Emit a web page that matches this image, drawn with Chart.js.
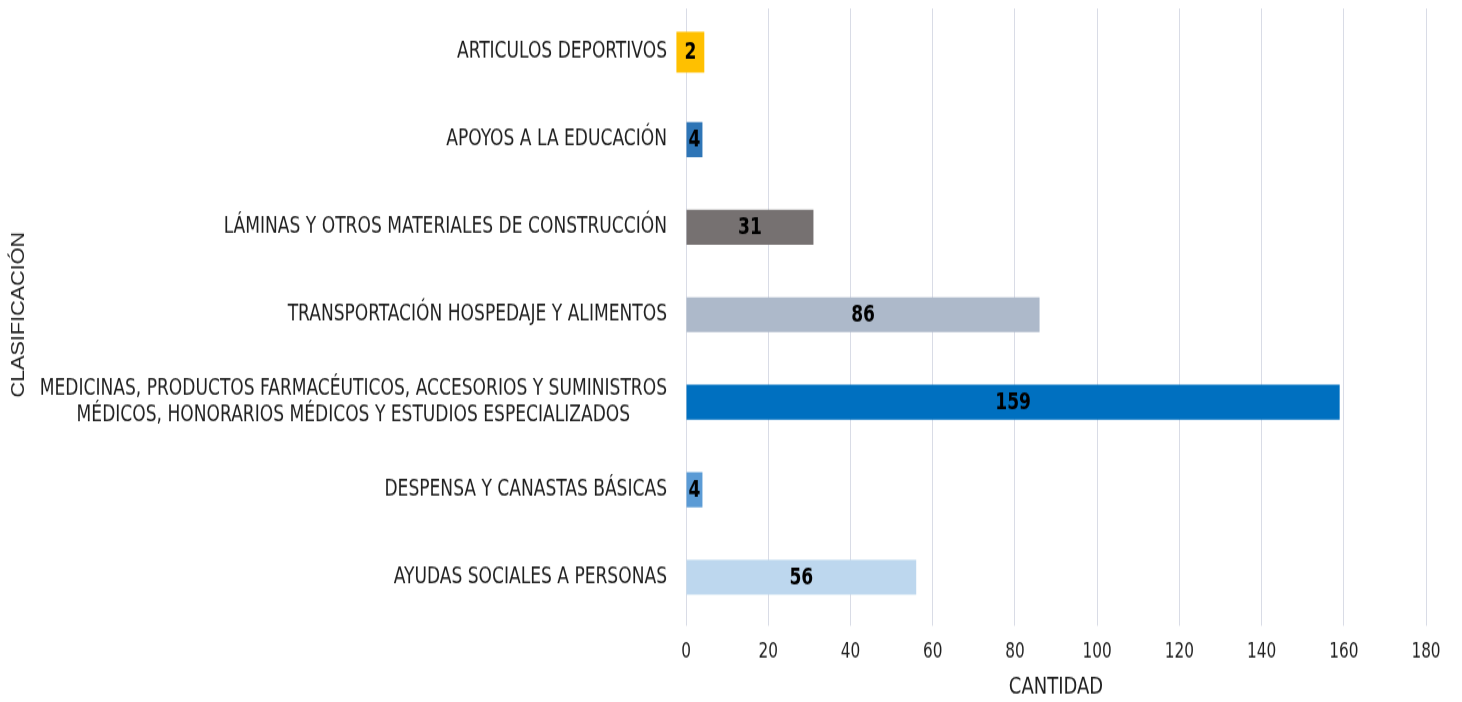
<!DOCTYPE html>
<html>
<head>
<meta charset="utf-8">
<script src="https://cdn.jsdelivr.net/npm/chart.js@4/dist/chart.umd.min.js"></script>
<style>
html,body{margin:0;padding:0;background:#fff;overflow:hidden;}
#wrap{width:1462px;height:702px;overflow:hidden;}
#c{display:block;transform:scaleY(1.2);transform-origin:0 0;}
</style>
</head>
<body>
<div id="wrap"><canvas id="c" width="1462" height="585"></canvas></div>
<script>
const categories = [
  'ARTICULOS DEPORTIVOS',
  'APOYOS A LA EDUCACIÓN',
  'LÁMINAS Y OTROS MATERIALES DE CONSTRUCCIÓN',
  'TRANSPORTACIÓN HOSPEDAJE Y ALIMENTOS',
  ['MEDICINAS, PRODUCTOS FARMACÉUTICOS, ACCESORIOS Y SUMINISTROS', 'MÉDICOS, HONORARIOS MÉDICOS Y ESTUDIOS ESPECIALIZADOS'],
  'DESPENSA Y CANASTAS BÁSICAS',
  'AYUDAS SOCIALES A PERSONAS'
];
const values = [2, 4, 31, 86, 159, 4, 56];
const barColors = ['#FFC000', '#2E75B6', '#767171', '#ADB9CA', '#0070C0', '#5B9BD5', '#BDD7EE'];
const labelBackgrounds = ['#FFC000', null, null, null, null, null, null];
const xMin = 0, xMax = 180, xStep = 20;
const xTitle = 'CANTIDAD';
const yTitle = 'CLASIFICACIÓN';

const NARROW = '"Liberation Sans Narrow", "DejaVu Sans Condensed", "Liberation Sans", sans-serif';
const TEXT = '#1f1f1f';

const yLabelPlugin = {
  id: 'yLabels',
  afterDraw(chart) {
    const ctx = chart.ctx;
    const ys = chart.scales.y;
    const xs = chart.scales.x;
    const right = xs.left - 19;
    ctx.save();
    ctx.font = '19px ' + NARROW;
    ctx.fillStyle = TEXT;
    ctx.textBaseline = 'middle';
    ctx.textAlign = 'center';
    categories.forEach((lab, i) => {
      const lines = Array.isArray(lab) ? lab : [lab];
      const maxW = Math.max(...lines.map(l => ctx.measureText(l).width));
      const cx = right - maxW / 2;
      const cy = ys.getPixelForValue(i);
      const lh = 22.5;
      lines.forEach((l, k) => {
        ctx.fillText(l, cx, cy + (k - (lines.length - 1) / 2) * lh);
      });
    });
    ctx.restore();
  }
};

const valueLabelPlugin = {
  id: 'valueLabels',
  afterDatasetsDraw(chart) {
    const ctx = chart.ctx;
    const meta = chart.getDatasetMeta(0);
    ctx.save();
    ctx.font = 'bold 19px ' + NARROW;
    ctx.textAlign = 'center';
    ctx.textBaseline = 'middle';
    meta.data.forEach((bar, i) => {
      const cx = (bar.x + bar.base) / 2;
      const cy = bar.y;
      const txt = String(values[i]);
      if (labelBackgrounds[i]) {
        const w = ctx.measureText(txt).width + 16;
        const h = 34;
        ctx.fillStyle = labelBackgrounds[i];
        ctx.fillRect(cx - w / 2, cy - h / 2, w, h);
      }
      ctx.fillStyle = '#000';
      ctx.fillText(txt, cx, cy + 1);
    });
    ctx.restore();
  }
};

new Chart(document.getElementById('c'), {
  type: 'bar',
  data: {
    labels: categories,
    datasets: [{
      data: values,
      backgroundColor: barColors,
      borderWidth: 0,
      categoryPercentage: 0.4,
      barPercentage: 1
    }]
  },
  options: {
    indexAxis: 'y',
    responsive: false,
    animation: false,
    devicePixelRatio: 1,
    layout: { padding: { left: 8, right: 36, top: 7, bottom: 0 } },
    plugins: { legend: { display: false }, tooltip: { enabled: false } },
    scales: {
      x: {
        min: xMin, max: xMax,
        ticks: { stepSize: xStep, padding: 12, color: TEXT, font: { size: 17, family: NARROW } },
        grid: { color: '#D9DCE6', lineWidth: 1, tickLength: 4 },
        border: { display: false },
        title: { display: true, text: xTitle, color: TEXT, font: { size: 20, family: NARROW }, padding: 0 },
        afterFit(s) { s.height = 67.5; }
      },
      y: {
        ticks: { display: false },
        grid: { display: false },
        border: { display: false },
        title: { display: true, text: yTitle, color: TEXT, font: { size: 18, family: '"Liberation Sans", Arial, sans-serif' }, padding: 0 },
        afterFit(s) { s.width = 678; }
      }
    }
  },
  plugins: [yLabelPlugin, valueLabelPlugin]
});
</script>
</body>
</html>
